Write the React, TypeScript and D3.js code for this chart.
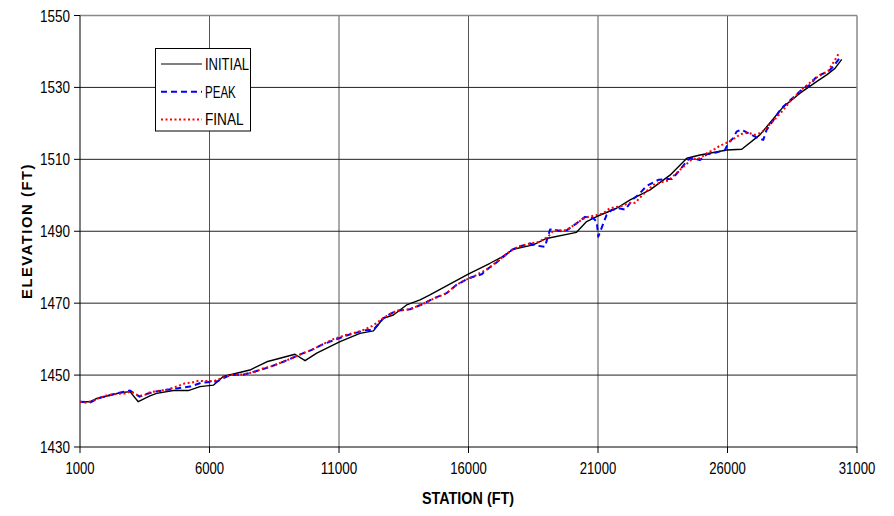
import React from "react";
import * as d3 from "d3";

const xTicks = [1000, 6000, 11000, 16000, 21000, 26000, 31000];
const yTicks = [1430, 1450, 1470, 1490, 1510, 1530, 1550];
const seriesNames = ["INITIAL", "PEAK", "FINAL"];

const initial: [number, number][] = [
  [1000, 1442.6], [1400, 1442.6], [1650, 1443.5], [2550, 1445.1], [2930, 1445.4],
  [3250, 1442.6], [3700, 1444.2], [3960, 1444.9], [4600, 1445.7], [5180, 1445.7],
  [5630, 1446.8], [6150, 1447.2], [6530, 1449.6], [7560, 1451.4], [8210, 1453.7],
  [9300, 1455.8], [9690, 1454.0], [10140, 1456.1], [11040, 1459.3], [11810, 1461.6],
  [12330, 1462.3], [12710, 1465.8], [13100, 1466.7], [13610, 1469.5], [14130, 1470.9],
  [14510, 1472.3], [15990, 1478.1], [16830, 1481.1], [17280, 1482.8], [17730, 1485.0],
  [18500, 1486.2], [19010, 1488.0], [20170, 1489.7], [20560, 1492.7], [20950, 1494.1],
  [21720, 1496.4], [22240, 1498.7], [23010, 1501.5], [23780, 1505.6], [24430, 1510.3],
  [24940, 1511.2], [25970, 1512.6], [26550, 1512.8], [27250, 1516.8], [28150, 1524.6],
  [28800, 1528.4], [29440, 1531.6], [29830, 1533.5], [30150, 1535.3], [30410, 1537.8],
];

const peak: [number, number][] = [
  [1000, 1442.6], [1400, 1442.4], [1770, 1443.7], [2350, 1444.8], [2930, 1445.7],
  [3300, 1444.0], [3600, 1444.8], [3900, 1445.4], [4350, 1445.9], [4730, 1446.3],
  [5250, 1446.8], [5700, 1447.9], [6280, 1448.2], [6790, 1450.0], [7300, 1450.1],
  [7950, 1451.4], [8340, 1452.3], [8850, 1453.7], [9240, 1454.9], [9620, 1456.1],
  [9950, 1457.0], [10330, 1458.4], [10650, 1459.3], [11290, 1461.0], [11680, 1461.8],
  [12000, 1462.5], [12330, 1462.6], [12710, 1465.8], [12900, 1466.7], [13230, 1467.9],
  [13740, 1468.3], [14250, 1469.8], [14580, 1471.1], [15160, 1472.8], [15540, 1475.1],
  [15870, 1476.4], [16120, 1477.2], [16500, 1478.0], [16770, 1479.7], [16960, 1480.6],
  [17280, 1482.5], [17670, 1484.8], [17920, 1485.7], [18380, 1486.6], [18630, 1486.0],
  [18950, 1485.7], [19150, 1490.5], [19280, 1490.5], [19600, 1490.0], [19800, 1490.3],
  [20170, 1492.2], [20500, 1494.0], [20820, 1493.6], [20950, 1492.7], [21010, 1488.5],
  [21330, 1494.5], [21520, 1495.9], [21800, 1496.4], [22050, 1496.0], [22350, 1498.9],
  [22550, 1500.1], [22880, 1502.6], [23010, 1503.1], [23330, 1504.3], [23600, 1504.5],
  [23850, 1504.5], [24100, 1506.5], [24490, 1510.0], [24620, 1510.3], [24940, 1509.8],
  [25200, 1511.4], [25520, 1511.8], [25900, 1512.6], [26030, 1514.5], [26220, 1515.9],
  [26350, 1517.7], [26500, 1518.2], [26610, 1518.0], [26930, 1516.8], [27120, 1516.1],
  [27380, 1515.4], [27510, 1518.2], [27770, 1520.9], [28030, 1523.7], [28150, 1524.6],
  [28400, 1526.3], [28930, 1529.8], [29190, 1530.7], [29380, 1532.5], [29570, 1533.5],
  [29890, 1534.4], [30080, 1535.8], [30320, 1538.1],
];

const final: [number, number][] = [
  [1000, 1442.6], [1260, 1442.3], [1770, 1443.7], [2090, 1444.5], [2610, 1444.9],
  [2740, 1444.9], [2930, 1445.4], [3300, 1444.2], [3510, 1444.5], [3700, 1445.2],
  [4090, 1445.7], [4350, 1445.9], [4800, 1447.0], [5050, 1447.7], [5310, 1447.9],
  [5570, 1448.4], [6150, 1448.3], [6790, 1450.0], [7300, 1450.2], [7760, 1450.9],
  [8080, 1451.9], [8340, 1452.3], [8850, 1453.7], [9240, 1454.9], [9620, 1456.1],
  [9950, 1457.0], [10330, 1458.4], [10780, 1460.0], [11290, 1461.2], [11680, 1461.9],
  [12000, 1462.7], [12290, 1463.7], [12710, 1465.8], [12900, 1466.7], [13230, 1467.9],
  [13740, 1468.3], [14250, 1469.8], [14580, 1471.0], [15160, 1472.8], [15540, 1475.1],
  [15870, 1476.4], [16310, 1477.8], [16770, 1479.7], [17280, 1482.6], [17670, 1484.8],
  [17920, 1485.7], [18380, 1486.6], [18700, 1487.0], [19080, 1488.5], [19280, 1490.3],
  [19790, 1490.3], [20170, 1492.2], [20500, 1493.8], [20950, 1494.5], [21200, 1495.0],
  [21460, 1496.4], [21660, 1496.7], [21910, 1497.0], [22170, 1497.8], [22430, 1497.9],
  [22750, 1500.3], [23140, 1502.9], [23530, 1503.8], [23720, 1504.1], [24230, 1507.5],
  [24620, 1510.0], [24940, 1510.3], [25200, 1511.7], [25520, 1512.9], [25710, 1513.8],
  [25940, 1514.5], [26200, 1515.5], [26500, 1517.0], [26800, 1517.4], [27060, 1516.8],
  [27320, 1517.4], [27900, 1521.7], [28150, 1523.7], [28410, 1526.1], [28930, 1529.8],
  [29380, 1532.5], [29890, 1534.6], [30280, 1539.2],
];

const W = 894;
const H = 516;
const L = 80, R = 857, T = 15.5, B = 447;
const FONT = "'Liberation Sans', Arial, sans-serif";

export default function App() {
  const x = d3.scaleLinear().domain([1000, 31000]).range([L, R]);
  const y = d3.scaleLinear().domain([1430, 1550]).range([B, T]);
  const line = d3
    .line<[number, number]>()
    .x((d) => x(d[0]))
    .y((d) => y(d[1]));

  const styles = [
    { color: "#000000", width: 1.4, dash: "" },
    { color: "#0000ff", width: 2, dash: "6,4" },
    { color: "#ff0000", width: 2, dash: "2,2.5" },
  ];
  const data = [initial, peak, final];

  return (
    <svg
      width={W}
      height={H}
      style={{ position: "absolute", left: 0, top: 0, background: "#fff" }}
    >
      <rect x={0} y={0} width={W} height={H} fill="#fff" />
      {xTicks.slice(1, -1).map((t) => (
        <line key={"vx" + t} x1={x(t)} x2={x(t)} y1={T} y2={B} stroke="#555" strokeWidth={1} />
      ))}
      {yTicks.slice(1, -1).map((t) => (
        <line key={"hy" + t} x1={L} x2={R} y1={y(t)} y2={y(t)} stroke="#222" strokeWidth={1} />
      ))}
      <line x1={L} x2={R} y1={T} y2={T} stroke="#888" strokeWidth={1.5} />
      <line x1={R} x2={R} y1={T} y2={B} stroke="#888" strokeWidth={1.5} />
      <line x1={L} x2={R} y1={B} y2={B} stroke="#000" strokeWidth={1} />
      <line x1={L} x2={L} y1={T} y2={B} stroke="#000" strokeWidth={1} />
      {yTicks.map((t) => (
        <g key={"yt" + t}>
          <line x1={L - 6} x2={L} y1={y(t)} y2={y(t)} stroke="#000" />
          <text
            x={70}
            y={y(t) + 6}
            textAnchor="end"
            fontFamily={FONT}
            fontSize={17}
            textLength={30}
            lengthAdjust="spacingAndGlyphs"
            fill="#000"
          >
            {t}
          </text>
        </g>
      ))}
      {xTicks.map((t) => {
        const s = String(t);
        return (
          <g key={"xt" + t}>
            <line x1={x(t)} x2={x(t)} y1={B} y2={B + 6} stroke="#000" />
            <text
              x={x(t) - (s.length * 7.3) / 2}
              y={473.5}
              fontFamily={FONT}
              fontSize={17}
              textLength={s.length * 7.3}
              lengthAdjust="spacingAndGlyphs"
              fill="#000"
            >
              {s}
            </text>
          </g>
        );
      })}
      <text
        x={422}
        y={504}
        fontFamily={FONT}
        fontSize={17}
        fontWeight="bold"
        textLength={92}
        lengthAdjust="spacingAndGlyphs"
      >
        STATION (FT)
      </text>
      <g transform={`translate(32, ${299}) rotate(-90) scale(1, 0.78)`}>
        <text
          x={0}
          y={0}
          fontFamily={FONT}
          fontSize={19}
          fontWeight="bold"
          textLength={136}
          lengthAdjust="spacingAndGlyphs"
          letterSpacing={2}
        >
          ELEVATION (FT)
        </text>
      </g>
      <defs>
        <clipPath id="plotclip">
          <rect x={L} y={T - 2} width={R - L} height={B - T + 2} />
        </clipPath>
      </defs>
      <g clipPath="url(#plotclip)">
        {data.map((d, i) => (
          <path
            key={seriesNames[i]}
            d={line(d) || ""}
            fill="none"
            stroke={styles[i].color}
            strokeWidth={styles[i].width}
            strokeDasharray={styles[i].dash || undefined}
            strokeLinejoin="round"
          />
        ))}
      </g>
      <rect x={155.5} y={48.5} width={95} height={82.5} fill="#fff" stroke="#000" strokeWidth={1} />
      {seriesNames.map((n, i) => {
        const ly = 64 + i * 27.7;
        return (
          <g key={"lg" + n}>
            <line
              x1={161}
              x2={202}
              y1={ly}
              y2={ly}
              stroke={styles[i].color}
              strokeWidth={i === 0 ? 1.2 : 2}
              strokeDasharray={styles[i].dash || undefined}
            />
            <text
              x={205}
              y={ly + 6}
              fontFamily={FONT}
              fontSize={17}
              textLength={n.length * (i === 0 ? 6.3 : 7.7)}
              lengthAdjust="spacingAndGlyphs"
            >
              {n}
            </text>
          </g>
        );
      })}
    </svg>
  );
}
